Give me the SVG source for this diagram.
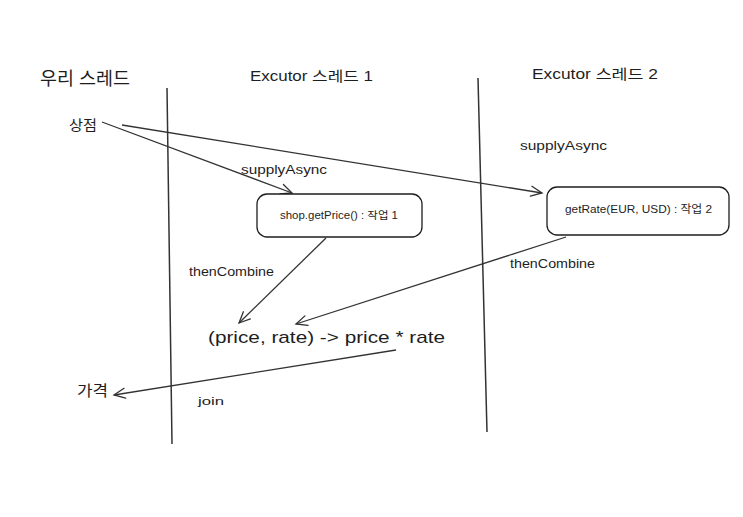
<svg xmlns="http://www.w3.org/2000/svg" width="743" height="517" viewBox="0 0 743 517">
<defs>
<marker id="ah" markerWidth="14" markerHeight="14" refX="12" refY="7" orient="auto" markerUnits="userSpaceOnUse">
<path d="M1,2 L12,7 L1,12" fill="none" stroke="#333" stroke-width="1.3" stroke-linecap="round"/>
</marker>
<style>
text{font-family:"Liberation Sans","Noto Sans CJK KR",sans-serif;fill:#1e1e1e}
.lane{stroke:#333;stroke-width:1.5;fill:none}
.conn{stroke:#333;stroke-width:1.3;fill:none;marker-end:url(#ah)}
.box{fill:#fff;stroke:#1e1e1e;stroke-width:1.3}
</style>
</defs>
<rect width="743" height="517" fill="#fff"/>
<g id="lanes">
<line class="lane" x1="167" y1="88" x2="172" y2="444"/>
<line class="lane" x1="478" y1="78" x2="487" y2="432"/>
</g>
<g id="headers">
<text x="40" y="85" font-size="18" textLength="90" lengthAdjust="spacingAndGlyphs">우리 스레드</text>
<text x="250" y="81" font-size="14" textLength="123" lengthAdjust="spacingAndGlyphs">Excutor 스레드 1</text>
<text x="532" y="79" font-size="14" textLength="126" lengthAdjust="spacingAndGlyphs">Excutor 스레드 2</text>
</g>
<g id="connectors">
<line class="conn" x1="102" y1="122" x2="292" y2="193"/>
<line class="conn" x1="122" y1="125" x2="542" y2="193"/>
<line class="conn" x1="326" y1="238" x2="239" y2="323"/>
<line class="conn" x1="566" y1="237" x2="296" y2="324"/>
<line class="conn" x1="396" y1="350" x2="114" y2="395"/>
<text x="241" y="174" font-size="13" textLength="86" lengthAdjust="spacingAndGlyphs">supplyAsync</text>
<text x="520" y="150" font-size="13" textLength="87" lengthAdjust="spacingAndGlyphs">supplyAsync</text>
<text x="189" y="276" font-size="12" textLength="85" lengthAdjust="spacingAndGlyphs">thenCombine</text>
<text x="510" y="268" font-size="12" textLength="85" lengthAdjust="spacingAndGlyphs">thenCombine</text>
<text x="198" y="405" font-size="11" textLength="26" lengthAdjust="spacingAndGlyphs">join</text>
</g>
<g id="store">
<text x="69" y="130" font-size="14" textLength="28" lengthAdjust="spacingAndGlyphs">상점</text>
</g>
<g id="task1">
<rect class="box" x="257" y="194" width="165" height="43" rx="10"/>
<text x="280" y="219" font-size="10" textLength="118" lengthAdjust="spacingAndGlyphs">shop.getPrice() : 작업 1</text>
</g>
<g id="task2">
<rect class="box" x="547" y="187" width="182" height="48" rx="10"/>
<text x="565" y="213" font-size="11" textLength="147" lengthAdjust="spacingAndGlyphs">getRate(EUR, USD) : 작업 2</text>
</g>
<g id="combine">
<text x="208" y="343" font-size="17" textLength="237" lengthAdjust="spacingAndGlyphs">(price, rate) -&gt; price * rate</text>
</g>
<g id="price">
<text x="77" y="396" font-size="15" textLength="31" lengthAdjust="spacingAndGlyphs">가격</text>
</g>
</svg>
